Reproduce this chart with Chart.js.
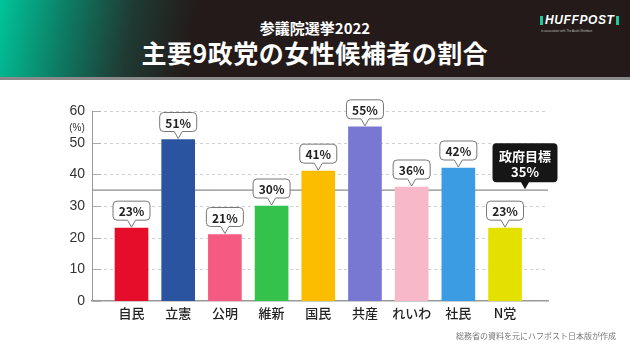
<!DOCTYPE html>
<html>
<head>
<meta charset="utf-8">
<script src="https://cdn.jsdelivr.net/npm/chart.js@4"></script>
<style>
  body { margin: 0; width: 630px; height: 354px; background: #fff; position: relative; overflow: hidden; font-family: "Noto Sans CJK JP", sans-serif; }
  #head { position: absolute; left: 0; top: 0; width: 630px; height: 77px;
    background: linear-gradient(100deg, #00c49a 0%, #0d7a62 11%, #1f3a33 21%, #231a19 31%, #231a19 100%);
    border-bottom: 3px solid #8a8a8a; }
  #t1 { position: absolute; top: 18px; left: 0; width: 630px; text-align: center; color: #fff; font-weight: 700; font-size: 15px; line-height: 20px; }
  #t2 { position: absolute; top: 37px; left: 0; width: 630px; text-align: center; color: #fff; font-weight: 700; font-size: 25px; line-height: 30px; letter-spacing: 0.5px; }
  #logo { position: absolute; left: 538px; top: 14px; width: 80px; }
  #logo .main { color: #fff; font: italic 900 12px "Liberation Sans", sans-serif; letter-spacing: 0.6px; line-height: 12px; white-space: nowrap; }
  #logo .bar { display: inline-block; width: 3px; height: 9px; background: #1ec99a; vertical-align: -1px; margin: 0 2px; }
  #logo .sub { color: #bbb; font: 3px "Liberation Sans", sans-serif; margin-top: 3px; white-space: nowrap; padding-left: 3px; }
  #wrap { position: absolute; left: 0; top: 80px; width: 630px; height: 274px; }
  #src { position: absolute; right: 14px; top: 330px; font-size: 8px; color: #777; }
</style>
</head>
<body>
<div id="head">
  <div id="t1">参議院選挙2022</div>
  <div id="t2">主要9政党の女性候補者の割合</div>
  <div id="logo"><div class="main"><span class="bar"></span>HUFFPOST<span class="bar"></span></div><div class="sub">in association with The Asahi Shimbun</div></div>
</div>
<div id="wrap"><canvas id="myChart"></canvas></div>
<div id="src">総務省の資料を元にハフポスト日本版が作成</div>
<script>
const parties = ['自民', '立憲', '公明', '維新', '国民', '共産', 'れいわ', '社民', 'N党'];
const shares = [23, 51, 21, 30, 41, 55, 36, 42, 23];
const barColors = ['#e60d2a', '#2a53a0', '#f55a82', '#35c24c', '#fcbd00', '#7878d2', '#f7b9c9', '#3b9be3', '#e4e000'];
const yTicks = [0, 10, 20, 30, 40, 50, 60];
const goal = 35;
const goalText = ['政府目標', '35%'];

// callout with a pointer, tip at (tx, ty)
function callout(ctx, tx, ty, w, h, fill, stroke) {
  const bottom = ty - 7;
  const x = tx - w / 2, y = bottom - h, r = 4;
  ctx.beginPath();
  ctx.moveTo(x + r, y);
  ctx.lineTo(x + w - r, y);
  ctx.quadraticCurveTo(x + w, y, x + w, y + r);
  ctx.lineTo(x + w, bottom - r);
  ctx.quadraticCurveTo(x + w, bottom, x + w - r, bottom);
  ctx.lineTo(tx + 4, bottom);
  ctx.lineTo(tx, ty);
  ctx.lineTo(tx - 4, bottom);
  ctx.lineTo(x + r, bottom);
  ctx.quadraticCurveTo(x, bottom, x, bottom - r);
  ctx.lineTo(x, y + r);
  ctx.quadraticCurveTo(x, y, x + r, y);
  ctx.closePath();
  ctx.fillStyle = fill;
  ctx.fill();
  if (stroke) {
    ctx.strokeStyle = stroke;
    ctx.lineWidth = 1;
    ctx.stroke();
  }
  return { cx: tx, cy: y + h / 2 };
}

const extras = {
  id: 'extras',
  beforeDatasetsDraw(chart) {
    const ctx = chart.ctx, a = chart.chartArea, y = chart.scales.y;
    ctx.save();
    // dashed grid
    ctx.strokeStyle = '#d0d0d0';
    ctx.lineWidth = 1;
    ctx.setLineDash([3, 3]);
    yTicks.forEach(v => {
      if (v === 0) return;
      const py = Math.round(y.getPixelForValue(v)) + 0.5;
      ctx.beginPath();
      ctx.moveTo(a.left, py);
      ctx.lineTo(a.right, py);
      ctx.stroke();
    });
    ctx.setLineDash([]);
    // short solid ticks at the axis
    ctx.strokeStyle = '#aaa';
    yTicks.forEach(v => {
      const py = Math.round(y.getPixelForValue(v)) + 0.5;
      ctx.beginPath();
      ctx.moveTo(a.left, py);
      ctx.lineTo(a.left + 9, py);
      ctx.stroke();
    });
    const gy = y.getPixelForValue(goal);
    ctx.strokeStyle = '#8c8c8c';
    ctx.lineWidth = 1.2;
    ctx.beginPath();
    ctx.moveTo(a.left, gy);
    ctx.lineTo(a.right, gy);
    ctx.stroke();
    ctx.restore();
  },
  afterDatasetsDraw(chart) {
    const ctx = chart.ctx, a = chart.chartArea, y = chart.scales.y;
    ctx.save();
    const meta = chart.getDatasetMeta(0);
    meta.data.forEach((bar, i) => {
      const c = callout(ctx, bar.x, bar.y - 1, 37, 19, '#fff', '#777');
      ctx.fillStyle = '#222';
      ctx.font = 'bold 12px "Noto Sans CJK JP"';
      ctx.textAlign = 'center';
      ctx.textBaseline = 'middle';
      ctx.fillText(shares[i] + '%', c.cx, c.cy + 1);
    });
    // government goal label
    const gy = y.getPixelForValue(goal);
    const c = callout(ctx, 525, gy - 1, 65, 39, '#161616', null);
    ctx.fillStyle = '#fff';
    ctx.font = 'bold 13px "Noto Sans CJK JP"';
    ctx.textAlign = 'center';
    ctx.textBaseline = 'middle';
    ctx.fillText(goalText[0], c.cx, c.cy - 7);
    ctx.fillText(goalText[1], c.cx, c.cy + 9);
    // unit
    ctx.fillStyle = '#333';
    ctx.font = '10px "Liberation Sans"';
    ctx.fillText('(%)', 77, y.getPixelForValue(60) + 17);
    // y axis line
    ctx.strokeStyle = '#999';
    ctx.lineWidth = 1;
    ctx.beginPath();
    ctx.moveTo(a.left + 0.5, a.top);
    ctx.lineTo(a.left + 0.5, a.bottom);
    ctx.stroke();
    ctx.restore();
  }
};

const ctx = document.getElementById('myChart').getContext('2d');
new Chart(ctx, {
  type: 'bar',
  data: {
    datasets: [{
      data: shares.map((v, i) => ({ x: i, y: v })),
      backgroundColor: barColors,
      barThickness: 33
    }]
  },
  options: {
    responsive: true,
    maintainAspectRatio: false,
    animation: false,
    layout: { padding: { left: 0, right: 82, top: 31, bottom: 0 } },
    plugins: { legend: { display: false }, tooltip: { enabled: false } },
    scales: {
      x: {
        type: 'linear',
        offset: false,
        min: -0.846,
        max: 8.92,
        afterFit(s) { s.height = 53; },
        afterBuildTicks(s) { s.ticks = parties.map((p, i) => ({ value: i })); },
        grid: { display: false, drawTicks: false },
        border: { display: true, color: '#999', width: 1.5 },
        ticks: {
          autoSkip: false,
          maxRotation: 0,
          padding: 4,
          color: '#222',
          font: { family: 'Noto Sans CJK JP', size: 13, weight: '500' },
          callback: v => parties[v]
        }
      },
      y: {
        min: 0,
        max: 60,
        afterFit(s) { s.width = 92; },
        afterBuildTicks(s) { s.ticks = yTicks.map(v => ({ value: v })); },
        grid: { display: false, drawTicks: false },
        border: { display: false },
        ticks: {
          padding: 7,
          color: '#333',
          font: { family: 'Liberation Sans', size: 14 }
        }
      }
    }
  },
  plugins: [extras]
});
</script>
</body>
</html>
